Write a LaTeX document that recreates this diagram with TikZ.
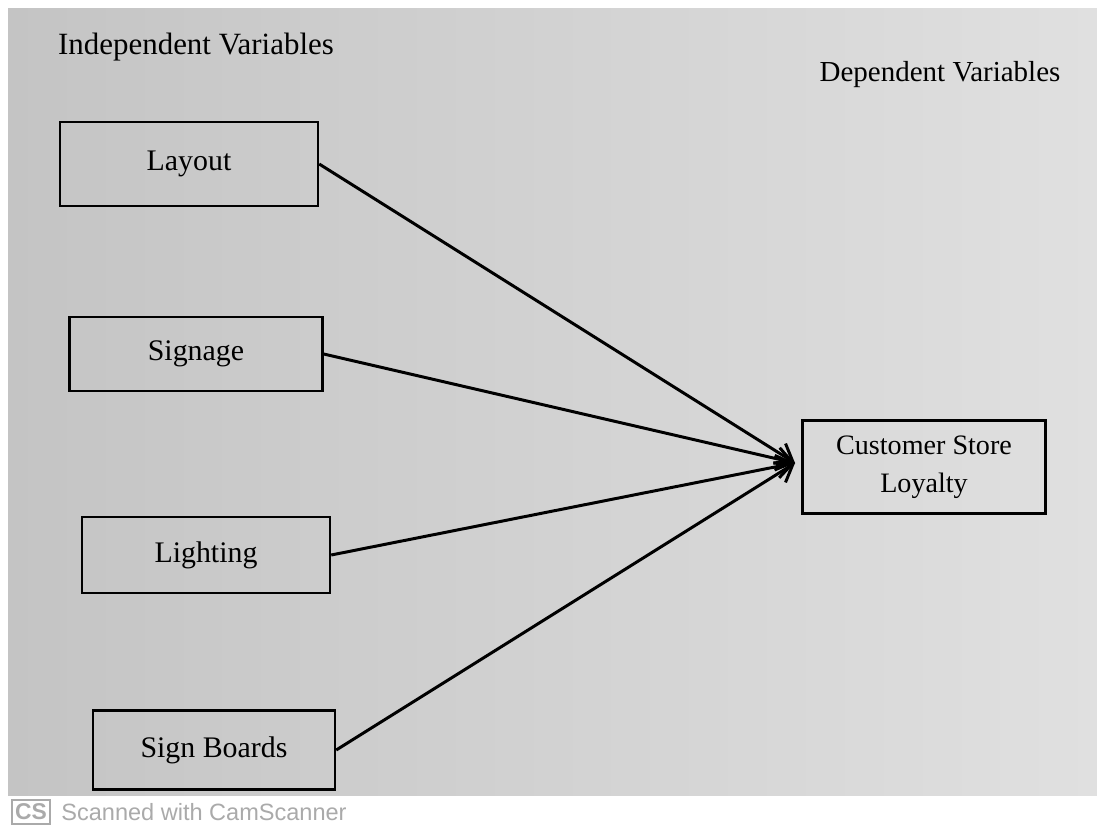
\documentclass[tikz,border=0pt]{standalone}
\usepackage{fontspec}
\setmainfont{Liberation Serif}
\newfontfamily\footfont{Liberation Sans}
\usetikzlibrary{arrows.meta}
\definecolor{paperL}{RGB}{196,196,196}
\definecolor{paperR}{RGB}{224,224,224}
\definecolor{footgray}{RGB}{170,170,170}
\begin{document}
\begin{tikzpicture}[x=0.02cm,y=-0.02cm,
  varbox/.style={draw=black, line width=1.4pt, minimum width=5.0cm, minimum height=1.6cm, font=\fontsize{17}{20}\selectfont},
  link/.style={line width=1.7pt, -{Straight Barb[length=9pt,width=13pt,line width=1.7pt]}, shorten >=0pt},
  heading/.style={font=\fontsize{16.5}{20}\selectfont}]
\useasboundingbox (0,0) rectangle (1097,829);
\fill[white] (0,0) rectangle (1097,829);
\shade[left color=paperL, right color=paperR] (8,8) rectangle (1097,795);
\node[heading, font=\fontsize{17.6}{20}\selectfont] (ivh) at (196,47) {Independent Variables};
\node[heading] (dvh) at (940,75) {Dependent Variables};
\node[varbox, minimum width=5.16cm, minimum height=1.68cm] (layout) at (189,164) {Layout};
\node[varbox, minimum width=5.06cm, minimum height=1.48cm] (signage) at (196,354) {Signage};
\node[varbox, minimum width=4.96cm, minimum height=1.52cm] (lighting) at (206,555) {Lighting};
\node[varbox, minimum width=4.84cm, minimum height=1.58cm] (boards) at (214,750) {Sign Boards};
\node[varbox, minimum width=4.86cm, minimum height=1.86cm, align=center, font=\fontsize{16}{21.5}\selectfont] (csl) at (924,467) {Customer Store\\Loyalty};
\coordinate (tip) at (795,463);
\draw[link] (layout.east) -- (tip);
\draw[link] (signage.east) -- (tip);
\draw[link] (lighting.east) -- (tip);
\draw[link] (boards.east) -- (tip);
\node[draw=footgray, line width=1.1pt, inner sep=2pt, text=footgray, font=\footfont\bfseries\fontsize{13}{14}\selectfont] (cs) at (31,812) {CS};
\node[anchor=west, text=footgray, font=\footfont\fontsize{13.4}{15}\selectfont, inner sep=0pt] (scan) at (61,812) {Scanned with CamScanner};
\end{tikzpicture}
\end{document}
